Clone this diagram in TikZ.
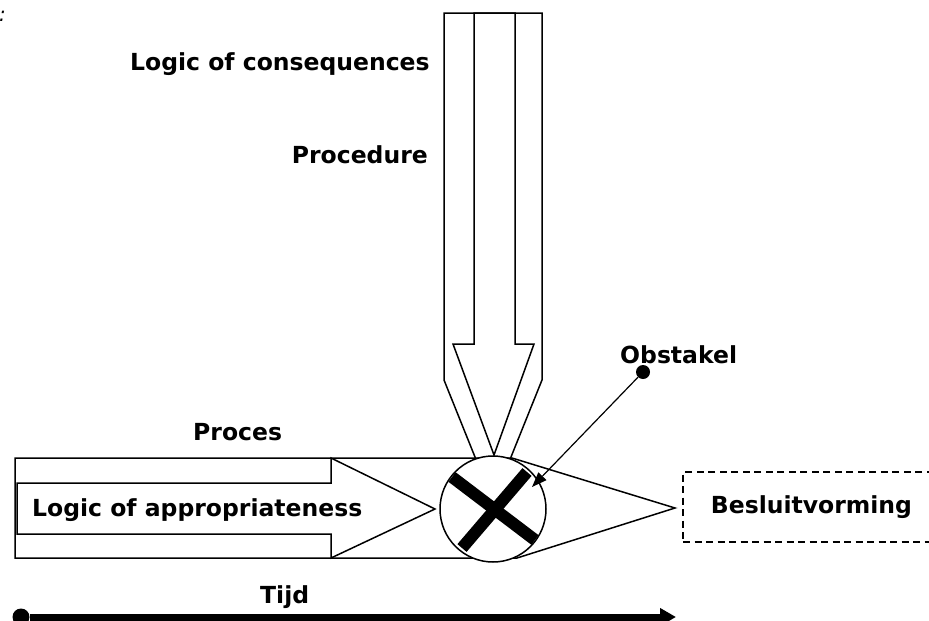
\documentclass[tikz,border=0pt]{standalone}
\usepackage{fontspec}
\setmainfont{DejaVu Sans}
\usetikzlibrary{arrows.meta}
\tikzset{
  lbl/.style={font=\bfseries\fontsize{23.5}{28}\selectfont, inner sep=0pt},
  pijl/.style={line width=1.5pt, line join=miter},
  stip/.style={circle, fill, inner sep=0pt, minimum size=#1},
}
\begin{document}
\begin{tikzpicture}[x=1pt,y=-1pt]
\useasboundingbox (0,0) rectangle (929,621);
\node[inner sep=0pt, anchor=base west, font=\itshape\fontsize{20}{24}\selectfont] (dubbelpunt) at (-1,21) {:};

% Procedure
\draw[pijl, fill=white] (444,13) -- (542,13) -- (542,380) -- (511,457) -- (493,509) -- (475,457) -- (444,380) -- cycle;
\draw[pijl] (474,13) -- (515,13) -- (515,344) -- (534,344) -- (494,455) -- (453,344) -- (474,344) -- cycle;

% Proces
\draw[pijl] (15,458) -- (512,458) -- (675,508) -- (517,558) -- (15,558) -- cycle;
\draw[pijl] (17,483) -- (331,483) -- (331,458) -- (435,509) -- (331,558) -- (331,534) -- (17,534) -- cycle;

% obstakel
\node[circle, draw, line width=1.5pt, fill=white, minimum size=106pt, inner sep=0pt] (kruis) at (493,509) {};
\draw[line width=12pt] (452,477) -- (535,540);
\draw[line width=12pt] (527,472) -- (462,548);

\node[lbl, anchor=base west] (logcons) at (130,70) {Logic of consequences};
\node[lbl, anchor=base east] (proced) at (428,163) {Procedure};
\node[lbl, anchor=base west] (proces) at (193,440) {Proces};
\node[lbl, anchor=base west] (logapp) at (32,516) {Logic of appropriateness};
\node[lbl, anchor=base west] (obst) at (620,363) {Obstakel};
\node[lbl, draw, dash pattern=on 7pt off 4.5pt, line width=1.5pt, minimum width=257pt, minimum height=70pt] (besluit) at (811.5,507) {Besluitvorming};

\node[stip=14pt] (obstpunt) at (643,372) {};
\coordinate (raak) at (532,487);
\draw[line width=1.2pt, -{Triangle[length=15pt,width=11pt]}] (obstpunt) -- (raak);

% Tijd
\node[lbl, anchor=base west] (tijd) at (260,603) {Tijd};
\node[stip=17pt] (t0) at (21,617) {};
\coordinate (t1) at (676,617);
\draw[line width=7pt, -{Triangle[length=16pt,width=17pt]}] (t0) -- (t1);
\end{tikzpicture}
\end{document}
